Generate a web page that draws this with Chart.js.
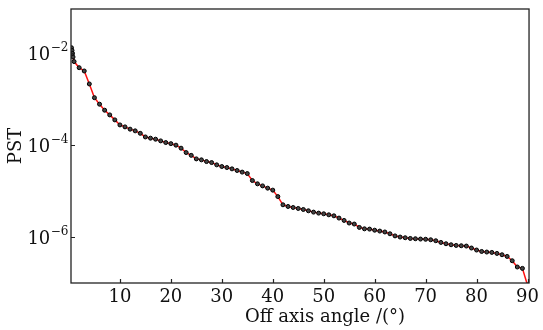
<!DOCTYPE html>
<html><head><meta charset="utf-8">
<script src="https://cdn.jsdelivr.net/npm/chart.js@4"></script>
<style>html,body{margin:0;padding:0;background:#fff}#wrap{width:543px;height:330px}</style>
</head><body><div id="wrap"><canvas id="c" width="543" height="330"></canvas></div>
<script>
const angles = [0.5,0.6,0.7,0.8,1,2,3,4,5,6,7,8,9,10,11,12,13,14,15,16,17,18,19,20,21,22,23,24,25,26,27,28,29,30,31,32,33,34,35,36,37,38,39,40,41,42,43,44,45,46,47,48,49,50,51,52,53,54,55,56,57,58,59,60,61,62,63,64,65,66,67,68,69,70,71,72,73,74,75,76,77,78,79,80,81,82,83,84,85,86,87,88,89,90];
const pst = [1.32e-2,1.15e-2,9.9e-3,8.3e-3,6.6e-3,4.86e-3,4.12e-3,2.15e-3,1.08e-3,7.8e-4,5.77e-4,4.56e-4,3.55e-4,2.76e-4,2.50e-4,2.23e-4,2.05e-4,1.81e-4,1.51e-4,1.42e-4,1.35e-4,1.24e-4,1.14e-4,1.08e-4,1.0e-4,8.6e-5,6.9e-5,6.0e-5,5.03e-5,4.79e-5,4.40e-5,4.18e-5,3.73e-5,3.43e-5,3.26e-5,3.05e-5,2.81e-5,2.59e-5,2.41e-5,1.70e-5,1.44e-5,1.30e-5,1.16e-5,1.05e-5,7.6e-6,5.04e-6,4.63e-6,4.40e-6,4.19e-6,3.98e-6,3.73e-6,3.49e-6,3.32e-6,3.21e-6,3.05e-6,2.90e-6,2.59e-6,2.30e-6,2.02e-6,1.92e-6,1.62e-6,1.51e-6,1.49e-6,1.41e-6,1.35e-6,1.29e-6,1.18e-6,1.06e-6,1.0e-6,9.66e-7,9.33e-7,9.19e-7,9.05e-7,8.95e-7,8.73e-7,8.31e-7,7.64e-7,7.15e-7,6.80e-7,6.57e-7,6.47e-7,6.37e-7,5.77e-7,5.22e-7,4.86e-7,4.72e-7,4.63e-7,4.40e-7,4.12e-7,3.79e-7,3.05e-7,2.23e-7,2.08e-7,9e-8];
const xTicks = [10,20,30,40,50,60,70,80,90];
const yTicks = [1e-6,1e-4,1e-2];
const yTickBase = '10';
const yTickExps = ['\u22126','\u22124','\u22122'];
const xTitle = 'Off axis angle /(\u00B0)';
const yTitle = 'PST';

const FONT = '"DejaVu Serif", serif';

const frame = {
  id: 'frame',
  afterDatasetsDraw(chart) {
    const {ctx, chartArea: a, scales} = chart;
    ctx.save();
    ctx.strokeStyle = '#222';
    ctx.lineWidth = 1.3;
    ctx.strokeRect(a.left, a.top, a.right - a.left, a.bottom - a.top);
    ctx.lineWidth = 1.2;
    ctx.beginPath();
    for (const v of xTicks) {
      const px = Math.round(scales.x.getPixelForValue(v)) + 0.5;
      ctx.moveTo(px, a.bottom); ctx.lineTo(px, a.bottom - 4);
    }
    for (const v of yTicks) {
      const py = Math.round(scales.y.getPixelForValue(v)) + 0.5;
      ctx.moveTo(a.left, py); ctx.lineTo(a.left + 4, py);
    }
    ctx.stroke();
    ctx.fillStyle = '#111';
    ctx.textBaseline = 'alphabetic';
    ctx.textAlign = 'left';
    yTicks.forEach((v, i) => {
      const py = scales.y.getPixelForValue(v);
      ctx.font = '18px ' + FONT;
      const wb = ctx.measureText(yTickBase).width;
      ctx.font = '12px ' + FONT;
      const we = ctx.measureText(yTickExps[i]).width;
      const right = a.left - 3;
      const x0 = right - we - wb;
      ctx.font = '18px ' + FONT;
      ctx.fillText(yTickBase, x0, py + 6.5);
      ctx.font = '12px ' + FONT;
      ctx.fillText(yTickExps[i], x0 + wb + 0.5, py - 2);
    });
    ctx.font = '18px ' + FONT;
    ctx.textAlign = 'center';
    ctx.textBaseline = 'middle';
    ctx.fillText(xTitle, (a.left + a.right) / 2 + 25, 317);
    ctx.restore();
  }
};

new Chart(document.getElementById('c'), {
  type: 'line',
  data: {
    datasets: [{
      data: angles.map((a, i) => ({x: a, y: pst[i]})),
      borderColor: '#ff1010',
      borderWidth: 1.5,
      pointRadius: 2,
      pointBackgroundColor: '#444',
      pointBorderColor: '#000',
      pointBorderWidth: 1,
      tension: 0,
      clip: 0
    }]
  },
  options: {
    responsive: false,
    animation: false,
    devicePixelRatio: 1,
    layout: {padding: {left: 0, right: 13, top: 9, bottom: 2}},
    plugins: {legend: {display: false}, tooltip: {enabled: false}},
    scales: {
      x: {
        type: 'linear', min: 0.4, max: 90.3,
        afterBuildTicks: s => { s.ticks = xTicks.map(v => ({value: v})); },
        afterFit: s => { s.height = 45; },
        grid: {display: false, drawTicks: false},
        border: {display: false},
        ticks: {color: '#111', font: {family: FONT, size: 18}, padding: 4, maxRotation: 0, callback: v => String(v)},
        title: {display: false}
      },
      y: {
        type: 'logarithmic', min: 1e-7, max: 0.092,
        afterBuildTicks: s => { s.ticks = yTicks.map(v => ({value: v})); },
        afterFit: s => { s.width = 71; },
        grid: {display: false, drawTicks: false},
        border: {display: false},
        ticks: {display: false},
        title: {display: true, text: yTitle, color: '#111', font: {family: FONT, size: 18}, padding: {top: 6, bottom: 0}}
      }
    }
  },
  plugins: [frame]
});
</script></body></html>
